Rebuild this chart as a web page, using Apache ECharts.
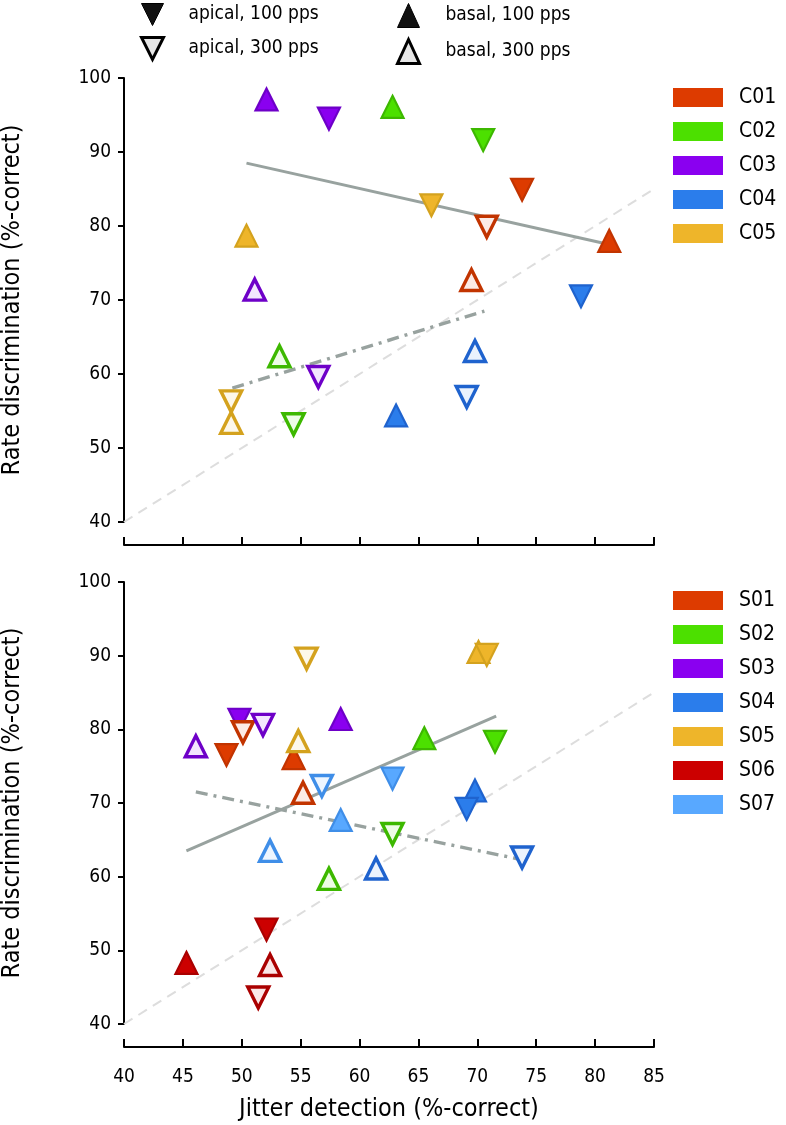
<!DOCTYPE html>
<html><head><meta charset="utf-8">
<script src="https://cdn.jsdelivr.net/npm/echarts@6/dist/echarts.min.js"></script>
<style>html,body{margin:0;padding:0;background:#fff}#c{width:786px;height:1125px}</style>
</head><body><div id="c"></div>
<script>
// ---------- data ----------
const xTicks = [40,45,50,55,60,65,70,75,80,85];
const yTicks = [40,50,60,70,80,90,100];
const conditions = ['apical, 100 pps','apical, 300 pps','basal, 100 pps','basal, 300 pps'];

const topSubjects = ['C01','C02','C03','C04','C05'];
const topApical100 = [[73.8,84.9],[70.5,91.6],[57.4,94.5],[78.8,70.5],[66.1,82.8]];
const topApical300 = [[70.8,79.9],[54.4,53.2],[56.5,59.6],[69.1,56.9],[49.1,56.3]];
const topBasal100  = [[81.2,78.0],[62.8,96.1],[52.1,97.1],[63.1,54.4],[50.4,78.7]];
const topBasal300  = [[69.5,72.7],[53.2,62.4],[51.1,71.4],[69.8,63.1],[49.1,53.4]];
const topFit100 = [[50.4,88.5],[81.2,77.5]];
const topFit300 = [[49.2,58.1],[70.6,68.5]];

const botSubjects = ['S01','S02','S03','S04','S05','S06','S07'];
const botApical100 = [[48.7,76.5],[71.5,78.3],[49.8,81.3],[69.1,69.2],[70.8,90.1],[52.1,52.8],[62.8,73.3]];
const botApical300 = [[50.1,79.6],[62.8,65.8],[51.8,80.6],[73.8,62.6],[55.5,89.6],[51.4,43.6],[56.8,72.3]];
const botBasal100  = [[54.4,76.1],[65.5,78.8],[58.4,81.4],[69.8,71.7],[70.1,90.5],[45.3,48.3],[58.4,67.7]];
const botBasal300  = [[55.2,71.4],[57.4,59.7],[46.1,77.7],[61.4,61.1],[54.8,78.4],[52.4,48.0],[52.4,63.5]];
const botFit100 = [[45.3,63.5],[71.6,81.8]];
const botFit300 = [[46.1,71.5],[73.8,62.3]];

const identityLine = [[40,40],[85,85]];

// ---------- styles ----------
const subjColors = {
  C01:'#DD3B00', C02:'#4CE000', C03:'#8A00F0', C04:'#2B7DEB', C05:'#EEB52A',
  S01:'#DD3B00', S02:'#4CE000', S03:'#8A00F0', S04:'#2B7DEB', S05:'#EEB52A', S06:'#CC0000', S07:'#58A8FF'
};
const subjEdges = {
  C01:'#C23400', C02:'#3DB800', C03:'#6E00C8', C04:'#1F63CE', C05:'#D4A21E',
  S01:'#C23400', S02:'#3DB800', S03:'#6E00C8', S04:'#1F63CE', S05:'#D4A21E', S06:'#AA0000', S07:'#3F8EE8'
};
function tint(hex, f){
  const n=parseInt(hex.slice(1),16);
  const r=(n>>16)&255,g=(n>>8)&255,b=n&255;
  const m=c=>Math.round(c+(255-c)*f);
  return 'rgb('+m(r)+','+m(g)+','+m(b)+')';
}
const FONT = '"DejaVu Sans Condensed", "DejaVu Sans", sans-serif';
const downPath = 'path://M0,0 L20,0 L10,20 Z';

const grids = [
  {left:124, width:530, top:78, height:444, containLabel:false, outerBoundsMode:'none'},
  {left:124, width:530, top:582, height:442, containLabel:false, outerBoundsMode:'none'}
];

function makeAxes(i, showLabels){
  const x = {
    type:'value', gridIndex:i, min:40, max:85, interval:5, offset:23,
    axisLine:{show:true, onZero:false, lineStyle:{color:'#000', width:2}},
    axisTick:{show:true, inside:true, length:8, lineStyle:{color:'#000', width:2}},
    axisLabel:{show:showLabels, color:'#000', fontFamily:FONT, fontSize:19, margin:21},
    splitLine:{show:false}
  };
  if(showLabels){
    x.name='Jitter detection (%-correct)'; x.nameLocation='middle'; x.nameGap=50;
    x.nameTextStyle={color:'#000', fontFamily:FONT, fontSize:25};
  }
  const y = {
    type:'value', gridIndex:i, min:40, max:100, interval:10,
    axisLine:{show:true, onZero:false, lineStyle:{color:'#000', width:2}},
    axisTick:{show:true, inside:false, length:6, lineStyle:{color:'#000', width:2}},
    axisLabel:{color:'#000', fontFamily:FONT, fontSize:19, margin:13},
    splitLine:{show:false},
    name:'Rate discrimination (%-correct)', nameLocation:'middle', nameGap:99,
    nameTextStyle:{color:'#000', fontFamily:FONT, fontSize:25}
  };
  return [x,y];
}

const series = [];
function addPanel(i, subjects, a100, a300, b100, b300, fit100, fit300){
  series.push({type:'line', xAxisIndex:i, yAxisIndex:i, data:identityLine, symbol:'none', silent:true, z:1,
    lineStyle:{color:'#dddddd', width:2, type:[10,7]}});
  series.push({type:'line', xAxisIndex:i, yAxisIndex:i, data:fit100, symbol:'none', silent:true, z:2,
    lineStyle:{color:'#98A29F', width:3}});
  series.push({type:'line', xAxisIndex:i, yAxisIndex:i, data:fit300, symbol:'none', silent:true, z:2,
    lineStyle:{color:'#98A29F', width:3.4, type:[12,6,3,6]}});
  const groups = [
    {arr:b100, down:false, filled:true},
    {arr:b300, down:false, filled:false},
    {arr:a100, down:true, filled:true},
    {arr:a300, down:true, filled:false}
  ];
  groups.forEach(g=>{
    series.push({
      type:'scatter', xAxisIndex:i, yAxisIndex:i, z:3, silent:true,
      symbol:'triangle', symbolSize: g.filled?[22,22]:[21,21], symbolRotate: g.down?180:0,
      data: g.arr.map((p,k)=>{
        const s=subjects[k];
        return {value:p, itemStyle: g.filled
          ? {color:subjColors[s], borderColor:subjEdges[s], borderWidth:2.2, opacity:1}
          : {color:tint(subjColors[s],0.9), borderColor:subjEdges[s], borderWidth:3.4, opacity:1}};
      })
    });
  });
  subjects.forEach(s=>{
    series.push({type:'scatter', name:s, xAxisIndex:i, yAxisIndex:i, data:[], itemStyle:{color:subjColors[s], opacity:1}});
  });
}
addPanel(0, topSubjects, topApical100, topApical300, topBasal100, topBasal300, topFit100, topFit300);
addPanel(1, botSubjects, botApical100, botApical300, botBasal100, botBasal300, botFit100, botFit300);
conditions.forEach(c=>{
  series.push({type:'scatter', name:c, xAxisIndex:0, yAxisIndex:0, data:[], itemStyle:{color:'#111', opacity:1}});
});

const a0 = makeAxes(0,false), a1 = makeAxes(1,true);
const legText = {color:'#000', fontFamily:FONT, fontSize:21, padding:[0,0,0,11]};
const option = {
  animation:false,
  backgroundColor:'#fff',
  grid:grids,
  xAxis:[a0[0], a1[0]],
  yAxis:[a0[1], a1[1]],
  legend:[
    {orient:'vertical', left:140, top:3, padding:0, itemWidth:22, itemHeight:24, itemGap:10, selectedMode:false,
     textStyle:{color:'#000', fontFamily:FONT, fontSize:19, padding:[0,0,0,20]},
     data:[
      {name:conditions[0], icon:downPath, itemStyle:{color:'#111', borderColor:'#000', borderWidth:1, opacity:1}},
      {name:conditions[1], icon:downPath, itemStyle:{color:'#e6e6e6', borderColor:'#000', borderWidth:3, opacity:1}}
     ]},
    {orient:'vertical', left:396, top:3, padding:0, itemWidth:22, itemHeight:24, itemGap:10, selectedMode:false,
     textStyle:{color:'#000', fontFamily:FONT, fontSize:19, padding:[0,0,0,21]},
     data:[
      {name:conditions[2], icon:'triangle', itemStyle:{color:'#111', borderColor:'#000', borderWidth:1, opacity:1}},
      {name:conditions[3], icon:'triangle', itemStyle:{color:'#e6e6e6', borderColor:'#000', borderWidth:3, opacity:1}}
     ]},
    {orient:'vertical', left:673, top:87, padding:0, itemWidth:50, itemHeight:19, itemGap:13, selectedMode:false,
     icon:'rect', itemStyle:{borderWidth:0, opacity:1}, textStyle:legText, data:topSubjects},
    {orient:'vertical', left:673, top:590, padding:0, itemWidth:50, itemHeight:19, itemGap:13, selectedMode:false,
     icon:'rect', itemStyle:{borderWidth:0, opacity:1}, textStyle:legText, data:botSubjects}
  ],
  series:series
};
const chart = echarts.init(document.getElementById('c'), null, {renderer:'canvas'});
chart.setOption(option);
</script></body></html>
